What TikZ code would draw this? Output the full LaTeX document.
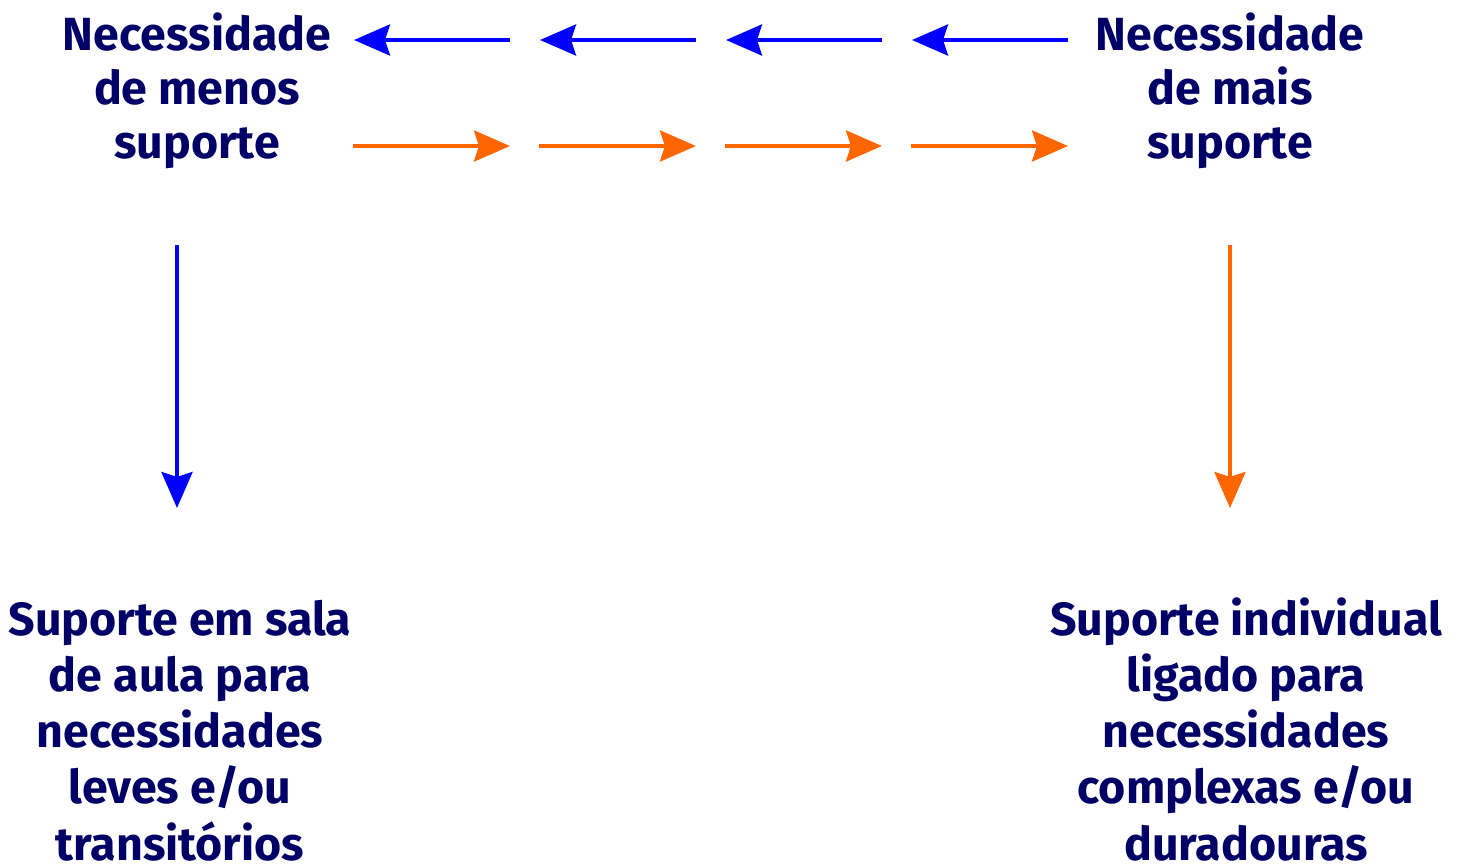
\documentclass[tikz,border=0pt]{standalone}
\usepackage{fontspec}
\setmainfont{Fira Sans}[BoldFont={Fira Sans Bold}]
\usetikzlibrary{arrows.meta}
\definecolor{navy}{RGB}{0,0,102}
\definecolor{arrblue}{RGB}{0,0,255}
\definecolor{arrorange}{RGB}{255,102,0}
\tikzset{
  label text/.style={font=\bfseries\fontsize{46.5}{54}\selectfont, text=navy,
    align=center, inner sep=0pt, anchor=base},
  outcome text/.style={label text, font=\bfseries\fontsize{46.5}{56.2}\selectfont},
  flow/.style={line width=4pt, -{Stealth[length=36pt, width=31pt, inset=5pt]}},
  lessflow/.style={flow, draw=arrblue, fill=arrblue},
  moreflow/.style={flow, draw=arrorange, fill=arrorange},
}
\begin{document}
\begin{tikzpicture}[x=1pt, y=-1pt]
  \useasboundingbox (0,0) rectangle (1468,863);
  % level labels (anchored at the baseline of their last line)
  \node[label text] (less) at (197,158) {Necessidade\\de menos\\suporte};
  \node[label text] (more) at (1230,158) {Necessidade\\de mais\\suporte};
  % outcome labels
  \node[outcome text] (light) at (180,860) {Suporte em sala\\de aula para\\necessidades\\leves e/ou\\transitórios};
  \node[outcome text] (complex) at (1246,860) {Suporte individual\\ligado para\\necessidades\\complexas e/ou\\duradouras};
  % upper row of arrows, towards less support
  \foreach \i/\a/\b in {1/510/354, 2/696/540, 3/882/726, 4/1068/912} {
    \coordinate (ls\i) at (\a,40);
    \coordinate (le\i) at (\b,40);
    \draw[lessflow] (ls\i) -- (le\i);
  }
  % lower row of arrows, towards more support
  \foreach \i/\a/\b in {1/353/510, 2/539/696, 3/725/882, 4/911/1068} {
    \coordinate (ms\i) at (\a,146);
    \coordinate (me\i) at (\b,146);
    \draw[moreflow] (ms\i) -- (me\i);
  }
  % downward arrows to the outcomes
  \coordinate (ld0) at (177,245);
  \coordinate (ld1) at (177,508);
  \draw[lessflow] (ld0) -- (ld1);
  \coordinate (md0) at (1230,245);
  \coordinate (md1) at (1230,508);
  \draw[moreflow] (md0) -- (md1);
\end{tikzpicture}
\end{document}
